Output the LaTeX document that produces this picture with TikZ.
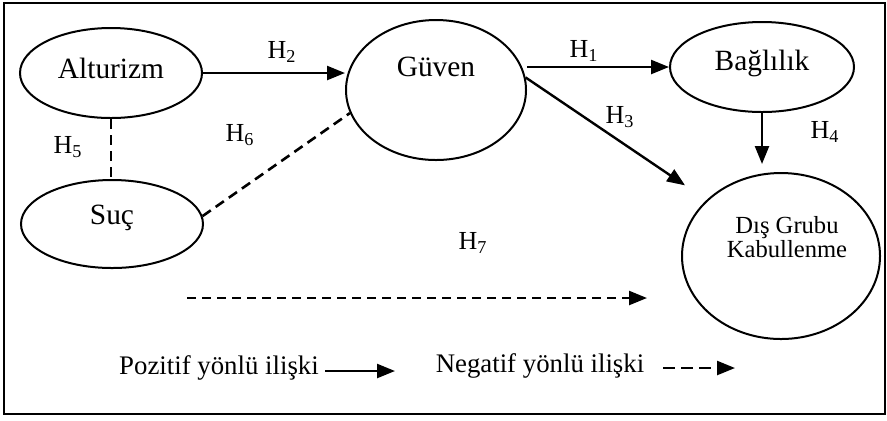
\documentclass[tikz,border=0pt]{standalone}
\usepackage{fontspec}
\setmainfont{Liberation Serif}
\usetikzlibrary{arrows.meta,positioning,shapes.geometric}

\begin{document}
\begin{tikzpicture}[
  x=0.5pt,y=-0.5pt,
  font=\fontsize{14.7}{17}\selectfont,
  oval/.style={draw,ellipse,line width=1pt,inner sep=0pt},
  arr/.style={-{Triangle[length=9pt,width=7pt]},line width=1.2pt},
  dasharr/.style={arr,dash pattern=on 4.5pt off 3pt},
  dline/.style={line width=1.3pt,dash pattern=on 5pt off 3pt},
  hyp/.style={font=\fontsize{13}{15}\selectfont},
  legend/.style={font=\fontsize{13.4}{16}\selectfont}
]
\useasboundingbox (0,0) rectangle (887,420);
\draw[line width=1pt] (4,3) rectangle (885,414);

% constructs
\node[oval,minimum width=91pt,minimum height=45pt,
  label={[yshift=2.5pt]center:Alturizm}] (alt) at (111,73) {};
\node[oval,minimum width=91pt,minimum height=44pt,
  label={[yshift=3pt]center:Suç}] (suc) at (112,224) {};
\node[oval,minimum width=90pt,minimum height=70pt,
  label={[yshift=11.5pt]center:Güven}] (guven) at (436,90) {};
\node[oval,minimum width=92pt,minimum height=45pt,
  label={[yshift=2pt]center:Bağlılık}] (bag) at (762,67) {};
\node[oval,minimum width=99pt,minimum height=83pt,
  label={[yshift=9.3pt,xshift=3pt,align=center,font=\fontsize{12.3}{10.5}\selectfont]center:{Dış Grubu\\Kabullenme}}] (dis) at (781,256) {};

% hypotheses
\draw[arr] (alt.east) -- (alt.east -| guven.west);
\draw[arr] (bag.west -| guven.east) -- (bag.west);
\draw[arr,shorten >=13pt] (guven.8) -- (dis.143);
\draw[arr,shorten >=4pt] (bag.south) -- (bag.south |- dis.north);
\draw[dline] (alt.south) -- (alt.south |- suc.north);
\draw[dline] (suc.5) -- (guven.195);
\coordinate (h7a) at (187,298);
\coordinate (h7b) at (647,298);
\draw[dasharr] (h7a) -- (h7b);

\node[hyp] (h1) at (584,51) {H\textsubscript{1}};
\node[hyp] (h2) at (282,52) {H\textsubscript{2}};
\node[hyp] (h3) at (620,117) {H\textsubscript{3}};
\node[hyp] (h4) at (825,132) {H\textsubscript{4}};
\node[hyp] (h5) at (68,147) {H\textsubscript{5}};
\node[hyp] (h6) at (240,135) {H\textsubscript{6}};
\node[hyp] (h7) at (473,243) {H\textsubscript{7}};

% legend
\node[legend] (pos) at (219,368) {Pozitif yönlü ilişki};
\node[legend] (neg) at (540,366) {Negatif yönlü ilişki};
\coordinate (posa) at (325,371);
\coordinate (posb) at (395,371);
\coordinate (nega) at (663,368);
\coordinate (negb) at (735,368);
\draw[arr] (posa) -- (posb);
\draw[dasharr,dash pattern=on 6pt off 3pt] (nega) -- (negb);
\end{tikzpicture}
\end{document}
